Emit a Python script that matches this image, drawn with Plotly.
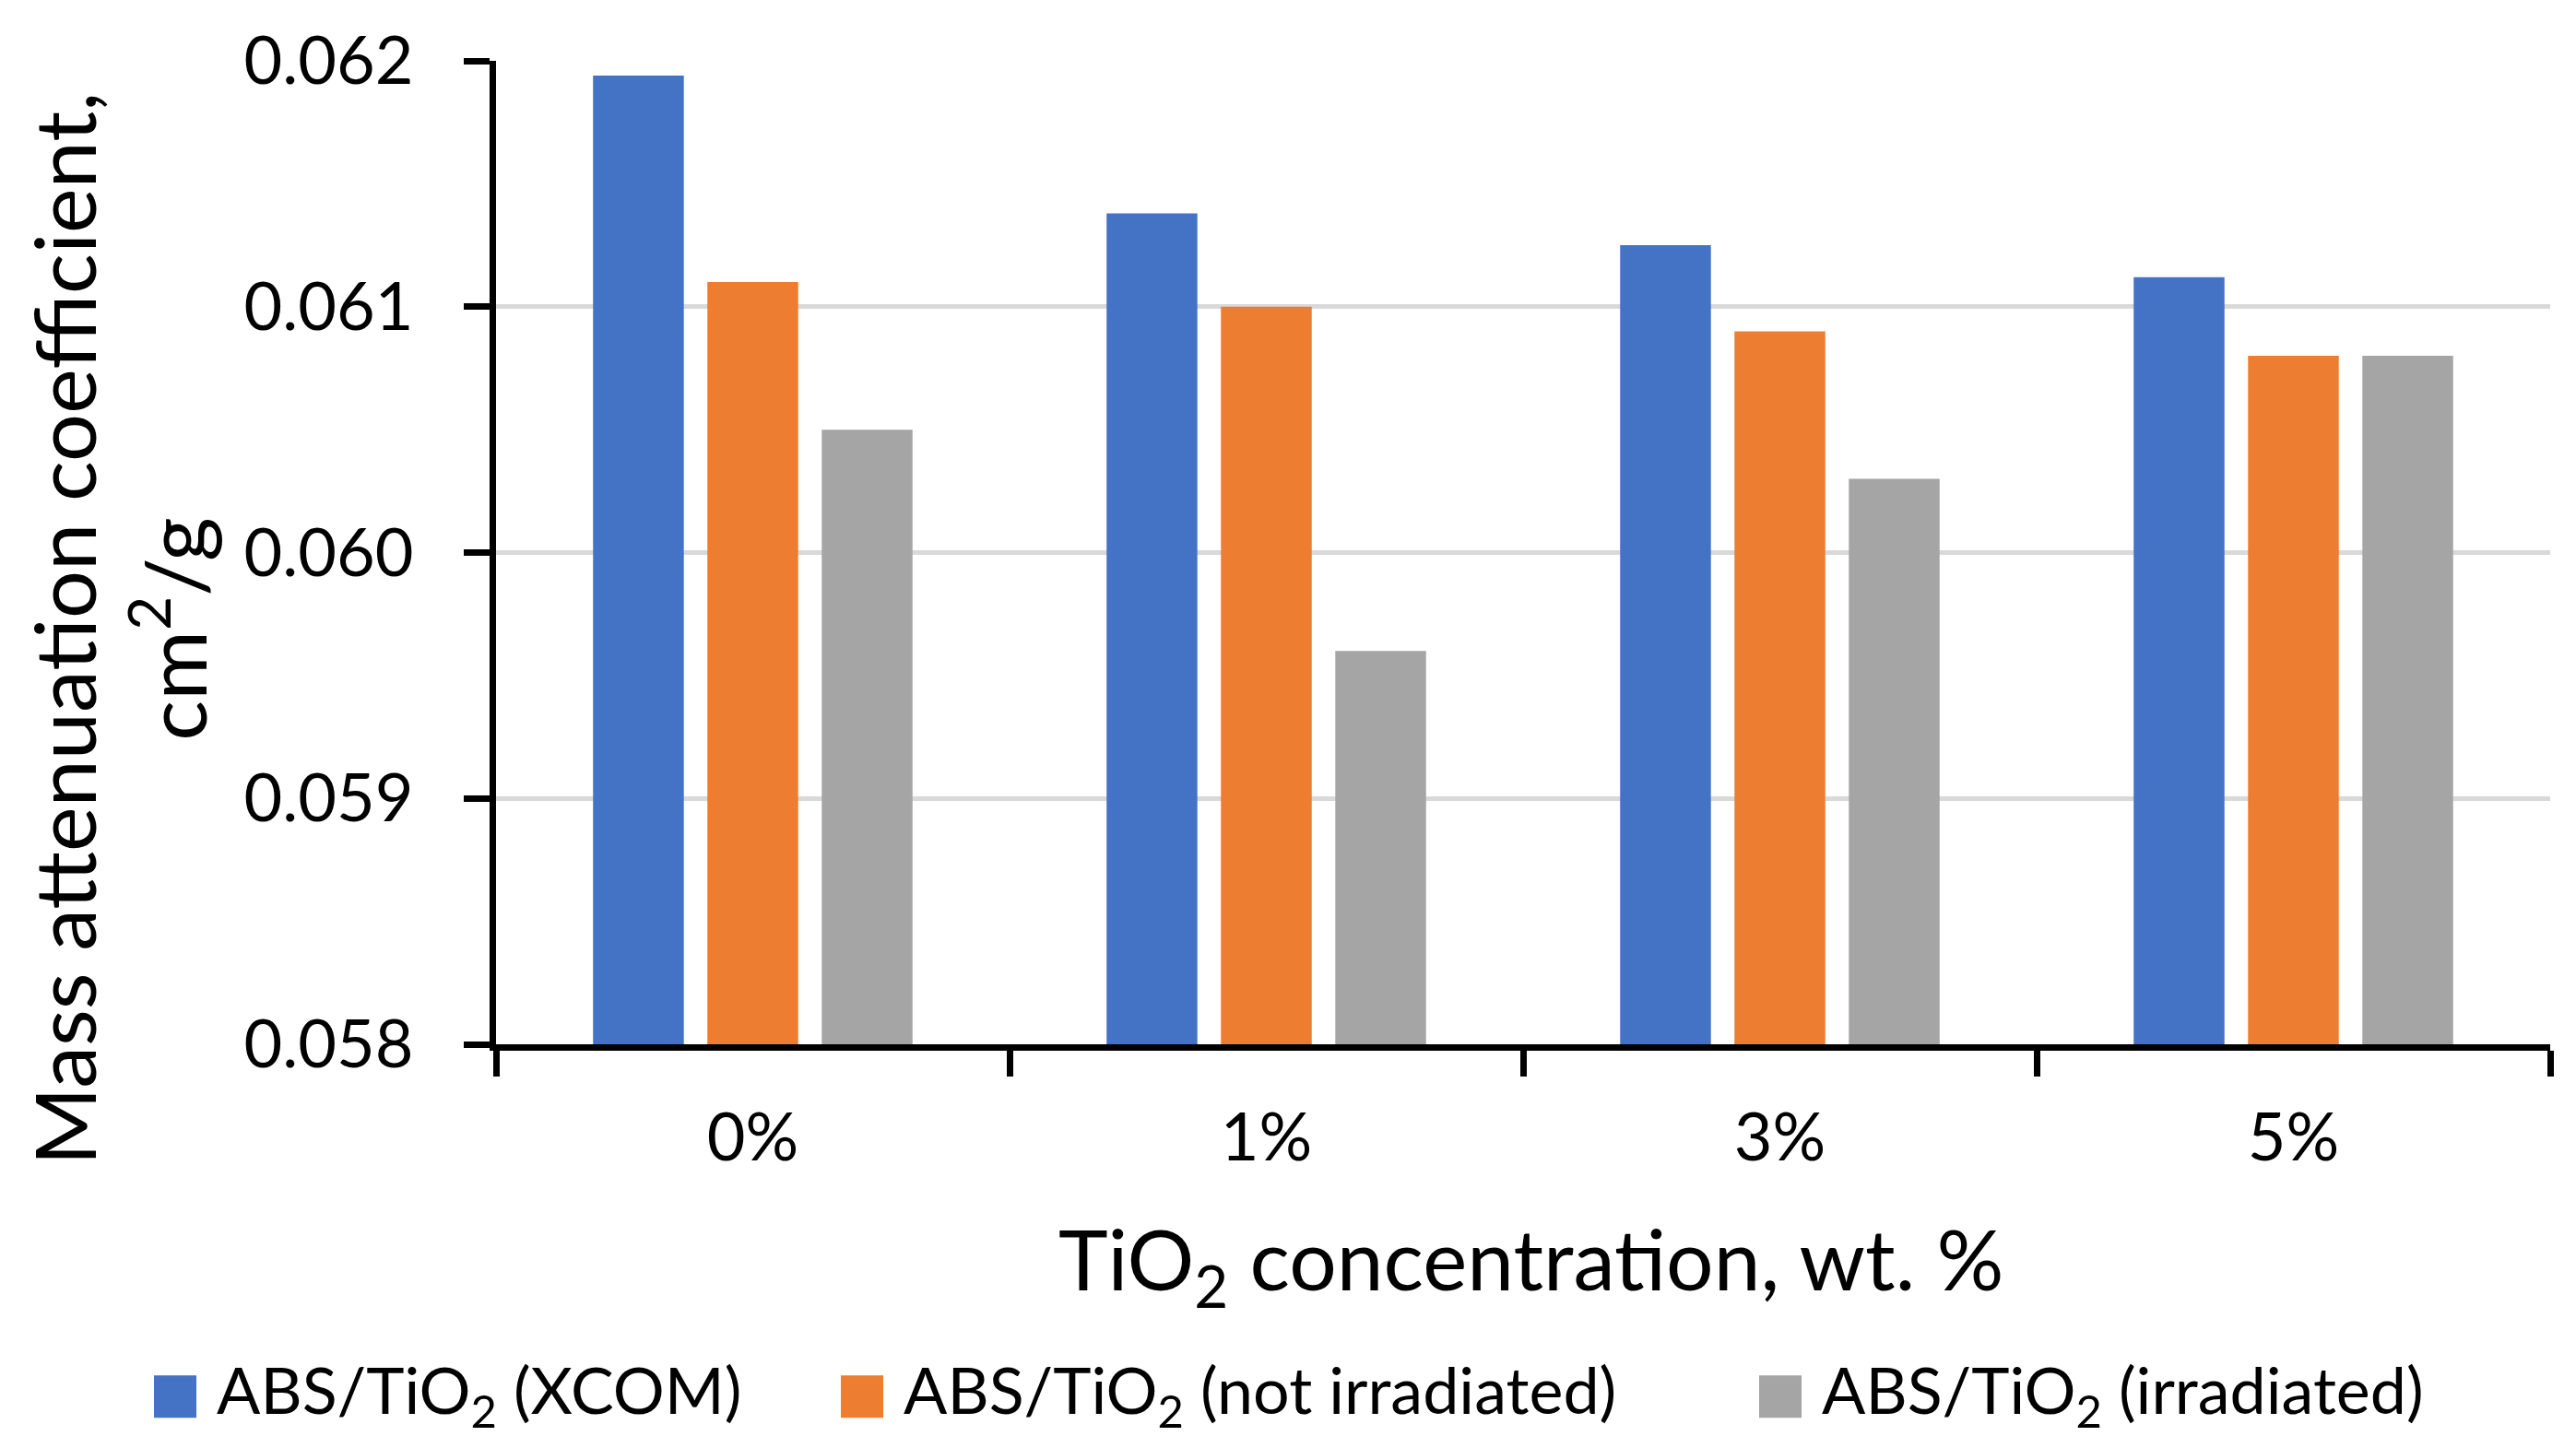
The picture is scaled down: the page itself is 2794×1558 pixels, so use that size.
import plotly.graph_objects as go

categories = ["0%", "1%", "3%", "5%"]
xcom = [0.06194, 0.06138, 0.06125, 0.06112]
not_irradiated = [0.06110, 0.06100, 0.06090, 0.06080]
irradiated = [0.06050, 0.05960, 0.06030, 0.06080]
series_names = ["ABS/TiO<sub>2</sub> (XCOM)", "ABS/TiO<sub>2</sub> (not irradiated)", "ABS/TiO<sub>2</sub> (irradiated)"]
colors = ["#4472C4", "#ED7D31", "#A5A5A5"]
y_ticks = [0.058, 0.059, 0.060, 0.061, 0.062]

W, H = 2794, 1558
L, R, T, B = 530, 2758, 56, 1125
FONT = "Lato"


def px(x):
    return (x - L) / (R - L)


def py(y):
    return (B - y) / (B - T)


fig = go.Figure()
for name, vals, col in zip(series_names, [xcom, not_irradiated, irradiated], colors):
    fig.add_trace(go.Bar(x=categories, y=vals, name=name, marker_color=col,
                         marker_line_width=0, showlegend=False))

fig.update_layout(
    width=W, height=H,
    margin=dict(l=L, r=W - R, t=T, b=H - B),
    paper_bgcolor="white", plot_bgcolor="white",
    barmode="group", bargap=0.332, bargroupgap=0.206,
    font=dict(family=FONT, color="black"),
)
fig.update_yaxes(range=[0.058, 0.062], tickvals=y_ticks, tickformat=".3f",
                 showgrid=True, gridcolor="#D9D9D9", gridwidth=5,
                 showline=True, linecolor="black", linewidth=7,
                 ticks="outside", ticklen=28, tickwidth=7, tickcolor="black",
                 tickfont=dict(size=72, family=FONT), ticklabelstandoff=40,
                 zeroline=False)
fig.update_xaxes(showline=True, linecolor="black", linewidth=7,
                 ticks="outside", tickson="boundaries", ticklen=28, tickwidth=7,
                 tickcolor="black", tickfont=dict(size=72, family=FONT),
                 ticklabelstandoff=33, showgrid=False)

# Axis titles
fig.add_annotation(text="Mass attenuation coefficient,<br>cm<sup>2</sup>/g",
                   xref="paper", yref="paper", x=px(121), y=py(674),
                   xanchor="center", yanchor="middle", textangle=-90,
                   showarrow=False, font=dict(size=92, family=FONT))
fig.add_annotation(text="TiO<sub>2</sub> concentration, wt. %",
                   xref="paper", yref="paper", x=px(1652), y=py(1364),
                   xanchor="center", yanchor="middle",
                   showarrow=False, font=dict(size=91, family=FONT))

# Legend
legend_sw_x = [159, 904, 1900]
for name, col, sx in zip(series_names, colors, legend_sw_x):
    fig.add_shape(type="rect", xref="paper", yref="paper",
                  x0=px(sx), x1=px(sx + 46), y0=py(1531), y1=py(1485),
                  fillcolor=col, line_width=0)
    fig.add_annotation(text=name, xref="paper", yref="paper",
                       x=px(sx + 66), y=py(1505), xanchor="left", yanchor="middle",
                       showarrow=False, font=dict(size=70, family=FONT))

fig.write_html("out.html")
